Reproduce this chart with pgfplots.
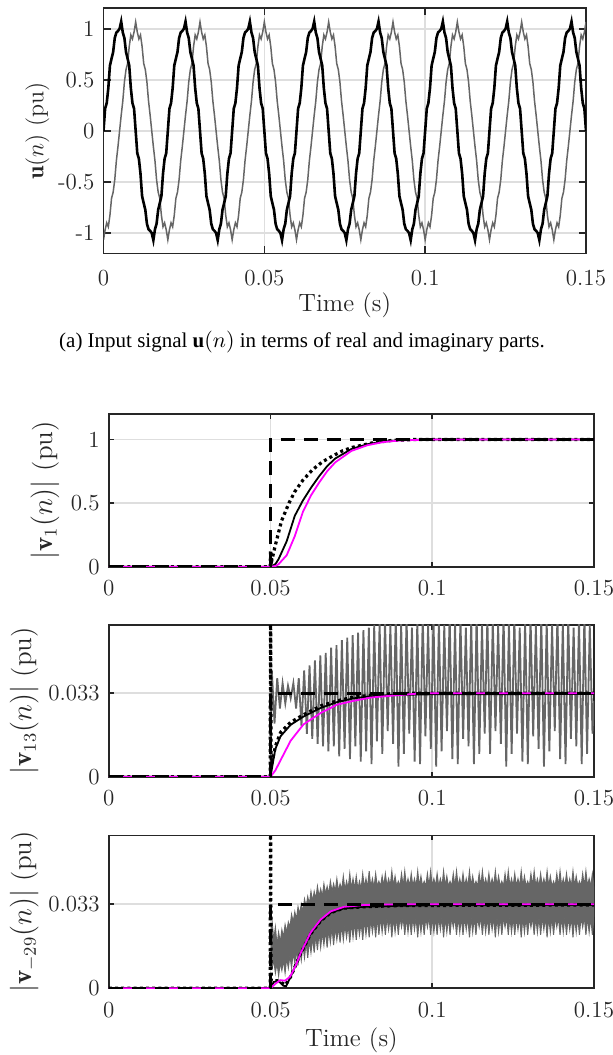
\documentclass[border=0pt]{standalone}
\usepackage{fontspec}
\usepackage{pgfplots}
\usepackage{pgfplotstable}
\pgfplotsset{compat=1.18}
\newfontfamily\capfont{Liberation Serif}
\definecolor{dg}{gray}{0.4}
\definecolor{gridc}{gray}{0.87}
\definecolor{framec}{gray}{0.15}
\definecolor{mag}{RGB}{255,0,255}

\pgfplotsset{
 matbase/.style={
  scale only axis, anchor=south west,
  xmin=0, xmax=0.15,
  xtick={0,0.05,0.1,0.15},
  xticklabels={0,0.05,0.1,0.15},
  scaled x ticks=false, scaled y ticks=false,
  tick align=inside, xtick pos=both, ytick pos=both,
  tick style={framec, line width=0.8pt},
  axis line style={framec, line width=0.9pt},
  grid=major,
  major grid style={gridc, line width=0.8pt},
  tick label style={font=\fontsize{11.5}{12}\selectfont, text=framec},
  yticklabel style={xshift=-1pt},
  clip=true,
 }
}

\pgfplotstableread{
t b g
0.0000 0.000 -1.066
0.0005 0.218 -0.968
0.0010 0.272 -0.900
0.0015 0.419 -0.939
0.0020 0.639 -0.826
0.0025 0.707 -0.660
0.0030 0.772 -0.600
0.0035 0.909 -0.478
0.0040 0.963 -0.292
0.0045 0.978 -0.153
0.0050 1.000 0.000
0.0055 1.070 0.153
0.0060 0.963 0.292
0.0065 0.909 0.478
0.0070 0.772 0.600
0.0075 0.707 0.660
0.0080 0.639 0.826
0.0085 0.419 0.939
0.0090 0.272 0.900
0.0095 0.218 0.968
0.0100 0.000 1.066
0.0105 -0.218 0.968
0.0110 -0.272 0.900
0.0115 -0.419 0.939
0.0120 -0.639 0.826
0.0125 -0.707 0.660
0.0130 -0.772 0.600
0.0135 -0.909 0.478
0.0140 -0.963 0.292
0.0145 -0.978 0.153
0.0150 -1.000 0.000
0.0155 -1.070 -0.153
0.0160 -0.963 -0.292
0.0165 -0.909 -0.478
0.0170 -0.772 -0.600
0.0175 -0.707 -0.660
0.0180 -0.639 -0.826
0.0185 -0.419 -0.939
0.0190 -0.272 -0.900
0.0195 -0.218 -0.968
0.0200 0.000 -1.066
0.0205 0.218 -0.968
0.0210 0.272 -0.900
0.0215 0.419 -0.939
0.0220 0.639 -0.826
0.0225 0.707 -0.660
0.0230 0.772 -0.600
0.0235 0.909 -0.478
0.0240 0.963 -0.292
0.0245 0.978 -0.153
0.0250 1.000 0.000
0.0255 1.070 0.153
0.0260 0.963 0.292
0.0265 0.909 0.478
0.0270 0.772 0.600
0.0275 0.707 0.660
0.0280 0.639 0.826
0.0285 0.419 0.939
0.0290 0.272 0.900
0.0295 0.218 0.968
0.0300 0.000 1.066
0.0305 -0.218 0.968
0.0310 -0.272 0.900
0.0315 -0.419 0.939
0.0320 -0.639 0.826
0.0325 -0.707 0.660
0.0330 -0.772 0.600
0.0335 -0.909 0.478
0.0340 -0.963 0.292
0.0345 -0.978 0.153
0.0350 -1.000 0.000
0.0355 -1.070 -0.153
0.0360 -0.963 -0.292
0.0365 -0.909 -0.478
0.0370 -0.772 -0.600
0.0375 -0.707 -0.660
0.0380 -0.639 -0.826
0.0385 -0.419 -0.939
0.0390 -0.272 -0.900
0.0395 -0.218 -0.968
0.0400 0.000 -1.066
0.0405 0.218 -0.968
0.0410 0.272 -0.900
0.0415 0.419 -0.939
0.0420 0.639 -0.826
0.0425 0.707 -0.660
0.0430 0.772 -0.600
0.0435 0.909 -0.478
0.0440 0.963 -0.292
0.0445 0.978 -0.153
0.0450 1.000 0.000
0.0455 1.070 0.153
0.0460 0.963 0.292
0.0465 0.909 0.478
0.0470 0.772 0.600
0.0475 0.707 0.660
0.0480 0.639 0.826
0.0485 0.419 0.939
0.0490 0.272 0.900
0.0495 0.218 0.968
0.0500 0.000 1.066
0.0505 -0.218 0.968
0.0510 -0.272 0.900
0.0515 -0.419 0.939
0.0520 -0.639 0.826
0.0525 -0.707 0.660
0.0530 -0.772 0.600
0.0535 -0.909 0.478
0.0540 -0.963 0.292
0.0545 -0.978 0.153
0.0550 -1.000 0.000
0.0555 -1.070 -0.153
0.0560 -0.963 -0.292
0.0565 -0.909 -0.478
0.0570 -0.772 -0.600
0.0575 -0.707 -0.660
0.0580 -0.639 -0.826
0.0585 -0.419 -0.939
0.0590 -0.272 -0.900
0.0595 -0.218 -0.968
0.0600 0.000 -1.066
0.0605 0.218 -0.968
0.0610 0.272 -0.900
0.0615 0.419 -0.939
0.0620 0.639 -0.826
0.0625 0.707 -0.660
0.0630 0.772 -0.600
0.0635 0.909 -0.478
0.0640 0.963 -0.292
0.0645 0.978 -0.153
0.0650 1.000 0.000
0.0655 1.070 0.153
0.0660 0.963 0.292
0.0665 0.909 0.478
0.0670 0.772 0.600
0.0675 0.707 0.660
0.0680 0.639 0.826
0.0685 0.419 0.939
0.0690 0.272 0.900
0.0695 0.218 0.968
0.0700 0.000 1.066
0.0705 -0.218 0.968
0.0710 -0.272 0.900
0.0715 -0.419 0.939
0.0720 -0.639 0.826
0.0725 -0.707 0.660
0.0730 -0.772 0.600
0.0735 -0.909 0.478
0.0740 -0.963 0.292
0.0745 -0.978 0.153
0.0750 -1.000 0.000
0.0755 -1.070 -0.153
0.0760 -0.963 -0.292
0.0765 -0.909 -0.478
0.0770 -0.772 -0.600
0.0775 -0.707 -0.660
0.0780 -0.639 -0.826
0.0785 -0.419 -0.939
0.0790 -0.272 -0.900
0.0795 -0.218 -0.968
0.0800 0.000 -1.066
0.0805 0.218 -0.968
0.0810 0.272 -0.900
0.0815 0.419 -0.939
0.0820 0.639 -0.826
0.0825 0.707 -0.660
0.0830 0.772 -0.600
0.0835 0.909 -0.478
0.0840 0.963 -0.292
0.0845 0.978 -0.153
0.0850 1.000 0.000
0.0855 1.070 0.153
0.0860 0.963 0.292
0.0865 0.909 0.478
0.0870 0.772 0.600
0.0875 0.707 0.660
0.0880 0.639 0.826
0.0885 0.419 0.939
0.0890 0.272 0.900
0.0895 0.218 0.968
0.0900 0.000 1.066
0.0905 -0.218 0.968
0.0910 -0.272 0.900
0.0915 -0.419 0.939
0.0920 -0.639 0.826
0.0925 -0.707 0.660
0.0930 -0.772 0.600
0.0935 -0.909 0.478
0.0940 -0.963 0.292
0.0945 -0.978 0.153
0.0950 -1.000 0.000
0.0955 -1.070 -0.153
0.0960 -0.963 -0.292
0.0965 -0.909 -0.478
0.0970 -0.772 -0.600
0.0975 -0.707 -0.660
0.0980 -0.639 -0.826
0.0985 -0.419 -0.939
0.0990 -0.272 -0.900
0.0995 -0.218 -0.968
0.1000 0.000 -1.066
0.1005 0.218 -0.968
0.1010 0.272 -0.900
0.1015 0.419 -0.939
0.1020 0.639 -0.826
0.1025 0.707 -0.660
0.1030 0.772 -0.600
0.1035 0.909 -0.478
0.1040 0.963 -0.292
0.1045 0.978 -0.153
0.1050 1.000 0.000
0.1055 1.070 0.153
0.1060 0.963 0.292
0.1065 0.909 0.478
0.1070 0.772 0.600
0.1075 0.707 0.660
0.1080 0.639 0.826
0.1085 0.419 0.939
0.1090 0.272 0.900
0.1095 0.218 0.968
0.1100 0.000 1.066
0.1105 -0.218 0.968
0.1110 -0.272 0.900
0.1115 -0.419 0.939
0.1120 -0.639 0.826
0.1125 -0.707 0.660
0.1130 -0.772 0.600
0.1135 -0.909 0.478
0.1140 -0.963 0.292
0.1145 -0.978 0.153
0.1150 -1.000 0.000
0.1155 -1.070 -0.153
0.1160 -0.963 -0.292
0.1165 -0.909 -0.478
0.1170 -0.772 -0.600
0.1175 -0.707 -0.660
0.1180 -0.639 -0.826
0.1185 -0.419 -0.939
0.1190 -0.272 -0.900
0.1195 -0.218 -0.968
0.1200 0.000 -1.066
0.1205 0.218 -0.968
0.1210 0.272 -0.900
0.1215 0.419 -0.939
0.1220 0.639 -0.826
0.1225 0.707 -0.660
0.1230 0.772 -0.600
0.1235 0.909 -0.478
0.1240 0.963 -0.292
0.1245 0.978 -0.153
0.1250 1.000 0.000
0.1255 1.070 0.153
0.1260 0.963 0.292
0.1265 0.909 0.478
0.1270 0.772 0.600
0.1275 0.707 0.660
0.1280 0.639 0.826
0.1285 0.419 0.939
0.1290 0.272 0.900
0.1295 0.218 0.968
0.1300 0.000 1.066
0.1305 -0.218 0.968
0.1310 -0.272 0.900
0.1315 -0.419 0.939
0.1320 -0.639 0.826
0.1325 -0.707 0.660
0.1330 -0.772 0.600
0.1335 -0.909 0.478
0.1340 -0.963 0.292
0.1345 -0.978 0.153
0.1350 -1.000 0.000
0.1355 -1.070 -0.153
0.1360 -0.963 -0.292
0.1365 -0.909 -0.478
0.1370 -0.772 -0.600
0.1375 -0.707 -0.660
0.1380 -0.639 -0.826
0.1385 -0.419 -0.939
0.1390 -0.272 -0.900
0.1395 -0.218 -0.968
0.1400 0.000 -1.066
0.1405 0.218 -0.968
0.1410 0.272 -0.900
0.1415 0.419 -0.939
0.1420 0.639 -0.826
0.1425 0.707 -0.660
0.1430 0.772 -0.600
0.1435 0.909 -0.478
0.1440 0.963 -0.292
0.1445 0.978 -0.153
0.1450 1.000 0.000
0.1455 1.070 0.153
0.1460 0.963 0.292
0.1465 0.909 0.478
0.1470 0.772 0.600
0.1475 0.707 0.660
0.1480 0.639 0.826
0.1485 0.419 0.939
0.1490 0.272 0.900
0.1495 0.218 0.968
0.1500 0.000 1.066
}\tabA

\pgfplotstableread{
t v
0 0
0.05 0
0.05040 0.042
0.05123 0.021
0.05207 0.039
0.05290 0.027
0.05373 0.037
0.05457 0.029
0.05540 0.036
0.05623 0.031
0.05706 0.037
0.05790 0.027
0.05873 0.039
0.05956 0.020
0.06040 0.042
0.06123 0.017
0.06206 0.044
0.06290 0.015
0.06373 0.046
0.06456 0.013
0.06539 0.048
0.06623 0.012
0.06706 0.049
0.06789 0.010
0.06873 0.051
0.06956 0.012
0.07039 0.052
0.07123 0.008
0.07206 0.054
0.07289 0.011
0.07372 0.055
0.07456 0.007
0.07539 0.056
0.07622 0.012
0.07706 0.057
0.07789 0.006
0.07872 0.058
0.07956 0.010
0.08039 0.059
0.08122 0.005
0.08205 0.060
0.08289 0.014
0.08372 0.061
0.08455 0.009
0.08539 0.062
0.08622 0.018
0.08705 0.060
0.08789 0.013
0.08872 0.064
0.08955 0.004
0.09038 0.061
0.09122 0.009
0.09205 0.063
0.09288 0.017
0.09372 0.059
0.09455 0.006
0.09538 0.062
0.09622 0.005
0.09705 0.064
0.09788 0.016
0.09871 0.060
0.09955 0.011
0.10038 0.063
0.10121 0.004
0.10205 0.062
0.10288 0.010
0.10371 0.060
0.10455 0.018
0.10538 0.064
0.10621 0.007
0.10704 0.061
0.10788 0.005
0.10871 0.063
0.10954 0.015
0.11038 0.059
0.11121 0.012
0.11204 0.062
0.11288 0.005
0.11371 0.064
0.11454 0.009
0.11537 0.060
0.11621 0.017
0.11704 0.063
0.11787 0.009
0.11871 0.062
0.11954 0.018
0.12037 0.060
0.12121 0.013
0.12204 0.064
0.12287 0.004
0.12370 0.061
0.12454 0.009
0.12537 0.063
0.12620 0.017
0.12704 0.059
0.12787 0.006
0.12870 0.062
0.12954 0.005
0.13037 0.064
0.13120 0.016
0.13203 0.060
0.13287 0.011
0.13370 0.063
0.13453 0.004
0.13537 0.062
0.13620 0.010
0.13703 0.060
0.13787 0.018
0.13870 0.064
0.13953 0.007
0.14036 0.061
0.14120 0.005
0.14203 0.063
0.14286 0.015
0.14370 0.059
0.14453 0.012
0.14536 0.062
0.14620 0.005
0.14703 0.064
0.14786 0.009
0.14869 0.060
0.14953 0.017
0.15000 0.030
}\tabC

% band of |v_-29|: upper edge left to right, then lower edge right to left
\pgfplotstableread{
t v
0.0500 0.022
0.0505 0.026
0.0510 0.019
0.0515 0.024
0.0520 0.017
0.0525 0.022
0.0530 0.018
0.0535 0.023
0.0540 0.020
0.0545 0.025
0.0550 0.022
0.0555 0.026
0.0560 0.024
0.0565 0.029
0.0570 0.026
0.0575 0.030
0.0580 0.027
0.0585 0.032
0.0590 0.029
0.0595 0.033
0.0600 0.030
0.0605 0.035
0.0610 0.032
0.0615 0.036
0.0620 0.033
0.0625 0.038
0.0630 0.034
0.0635 0.038
0.0640 0.035
0.0645 0.040
0.0650 0.036
0.0655 0.039
0.0660 0.036
0.0665 0.041
0.0670 0.037
0.0675 0.040
0.0680 0.037
0.0685 0.042
0.0690 0.038
0.0695 0.041
0.0700 0.038
0.0705 0.043
0.0710 0.038
0.0715 0.041
0.0720 0.0385
0.0725 0.044
0.0730 0.0385
0.0735 0.042
0.0740 0.039
0.0745 0.045
0.0750 0.039
0.0755 0.043
0.0760 0.039
0.0765 0.044
0.0770 0.039
0.0775 0.042
0.0780 0.039
0.0785 0.045
0.0790 0.0395
0.0795 0.043
0.0800 0.0395
0.0805 0.046
0.0810 0.0395
0.0815 0.043
0.0820 0.0395
0.0825 0.045
0.0830 0.040
0.0835 0.042
0.0840 0.040
0.0845 0.044
0.0850 0.040
0.0855 0.045
0.0860 0.040
0.0865 0.043
0.0870 0.040
0.0875 0.046
0.0880 0.040
0.0885 0.044
0.0890 0.040
0.0895 0.042
0.0900 0.040
0.0905 0.045
0.0910 0.040
0.0915 0.046
0.0920 0.040
0.0925 0.043
0.0930 0.040
0.0935 0.045
0.0940 0.040
0.0945 0.043
0.0950 0.040
0.0955 0.046
0.0960 0.040
0.0965 0.044
0.0970 0.040
0.0975 0.042
0.0980 0.040
0.0985 0.045
0.0990 0.040
0.0995 0.046
0.1000 0.040
0.1005 0.043
0.1010 0.040
0.1015 0.045
0.1020 0.040
0.1025 0.043
0.1030 0.040
0.1035 0.046
0.1040 0.040
0.1045 0.044
0.1050 0.040
0.1055 0.042
0.1060 0.040
0.1065 0.045
0.1070 0.040
0.1075 0.046
0.1080 0.040
0.1085 0.043
0.1090 0.040
0.1095 0.045
0.1100 0.040
0.1105 0.043
0.1110 0.040
0.1115 0.046
0.1120 0.040
0.1125 0.044
0.1130 0.040
0.1135 0.042
0.1140 0.040
0.1145 0.045
0.1150 0.040
0.1155 0.046
0.1160 0.040
0.1165 0.043
0.1170 0.040
0.1175 0.045
0.1180 0.040
0.1185 0.043
0.1190 0.040
0.1195 0.046
0.1200 0.040
0.1205 0.044
0.1210 0.040
0.1215 0.042
0.1220 0.040
0.1225 0.045
0.1230 0.040
0.1235 0.046
0.1240 0.040
0.1245 0.043
0.1250 0.040
0.1255 0.045
0.1260 0.040
0.1265 0.043
0.1270 0.040
0.1275 0.046
0.1280 0.040
0.1285 0.044
0.1290 0.040
0.1295 0.042
0.1300 0.040
0.1305 0.045
0.1310 0.040
0.1315 0.046
0.1320 0.040
0.1325 0.043
0.1330 0.040
0.1335 0.045
0.1340 0.040
0.1345 0.043
0.1350 0.040
0.1355 0.046
0.1360 0.040
0.1365 0.044
0.1370 0.040
0.1375 0.042
0.1380 0.040
0.1385 0.045
0.1390 0.040
0.1395 0.046
0.1400 0.040
0.1405 0.043
0.1410 0.040
0.1415 0.045
0.1420 0.040
0.1425 0.043
0.1430 0.040
0.1435 0.046
0.1440 0.040
0.1445 0.044
0.1450 0.040
0.1455 0.042
0.1460 0.040
0.1465 0.045
0.1470 0.040
0.1475 0.046
0.1480 0.040
0.1485 0.043
0.1490 0.040
0.1495 0.045
0.1500 0.040
0.1500 0.028
0.1495 0.021
0.1490 0.028
0.1485 0.022
0.1480 0.028
0.1475 0.021
0.1470 0.028
0.1465 0.024
0.1460 0.028
0.1455 0.021
0.1450 0.028
0.1445 0.022
0.1440 0.028
0.1435 0.020
0.1430 0.028
0.1425 0.023
0.1420 0.028
0.1415 0.021
0.1410 0.028
0.1405 0.022
0.1400 0.028
0.1395 0.021
0.1390 0.028
0.1385 0.024
0.1380 0.028
0.1375 0.021
0.1370 0.028
0.1365 0.022
0.1360 0.028
0.1355 0.020
0.1350 0.028
0.1345 0.023
0.1340 0.028
0.1335 0.021
0.1330 0.028
0.1325 0.022
0.1320 0.028
0.1315 0.021
0.1310 0.028
0.1305 0.024
0.1300 0.028
0.1295 0.021
0.1290 0.028
0.1285 0.022
0.1280 0.028
0.1275 0.020
0.1270 0.028
0.1265 0.023
0.1260 0.028
0.1255 0.021
0.1250 0.028
0.1245 0.022
0.1240 0.028
0.1235 0.021
0.1230 0.028
0.1225 0.024
0.1220 0.028
0.1215 0.021
0.1210 0.028
0.1205 0.022
0.1200 0.028
0.1195 0.020
0.1190 0.028
0.1185 0.023
0.1180 0.028
0.1175 0.021
0.1170 0.028
0.1165 0.022
0.1160 0.028
0.1155 0.021
0.1150 0.028
0.1145 0.024
0.1140 0.028
0.1135 0.021
0.1130 0.028
0.1125 0.022
0.1120 0.028
0.1115 0.020
0.1110 0.028
0.1105 0.023
0.1100 0.028
0.1095 0.021
0.1090 0.028
0.1085 0.022
0.1080 0.028
0.1075 0.021
0.1070 0.028
0.1065 0.024
0.1060 0.028
0.1055 0.021
0.1050 0.028
0.1045 0.022
0.1040 0.028
0.1035 0.020
0.1030 0.028
0.1025 0.023
0.1020 0.028
0.1015 0.021
0.1010 0.028
0.1005 0.022
0.1000 0.028
0.0995 0.021
0.0990 0.028
0.0985 0.024
0.0980 0.028
0.0975 0.021
0.0970 0.028
0.0965 0.022
0.0960 0.028
0.0955 0.020
0.0950 0.028
0.0945 0.023
0.0940 0.028
0.0935 0.021
0.0930 0.028
0.0925 0.022
0.0920 0.028
0.0915 0.021
0.0910 0.028
0.0905 0.024
0.0900 0.028
0.0895 0.021
0.0890 0.028
0.0885 0.022
0.0880 0.028
0.0875 0.020
0.0870 0.028
0.0865 0.023
0.0860 0.028
0.0855 0.021
0.0850 0.028
0.0845 0.022
0.0840 0.028
0.0835 0.021
0.0830 0.028
0.0825 0.020
0.0820 0.027
0.0815 0.022
0.0810 0.027
0.0805 0.020
0.0800 0.027
0.0795 0.021
0.0790 0.027
0.0785 0.019
0.0780 0.026
0.0775 0.021
0.0770 0.026
0.0765 0.019
0.0760 0.026
0.0755 0.020
0.0750 0.026
0.0745 0.018
0.0740 0.025
0.0735 0.020
0.0730 0.025
0.0725 0.019
0.0720 0.025
0.0715 0.018
0.0710 0.024
0.0705 0.019
0.0700 0.024
0.0695 0.017
0.0690 0.024
0.0685 0.018
0.0680 0.023
0.0675 0.016
0.0670 0.023
0.0665 0.017
0.0660 0.022
0.0655 0.016
0.0650 0.022
0.0645 0.015
0.0640 0.021
0.0635 0.014
0.0630 0.020
0.0625 0.014
0.0620 0.019
0.0615 0.012
0.0610 0.018
0.0605 0.012
0.0600 0.017
0.0595 0.011
0.0590 0.016
0.0585 0.009
0.0580 0.015
0.0575 0.010
0.0570 0.014
0.0565 0.008
0.0560 0.013
0.0555 0.008
0.0550 0.012
0.0545 0.006
0.0540 0.011
0.0535 0.007
0.0530 0.010
0.0525 0.005
0.0520 0.010
0.0515 0.006
0.0510 0.011
0.0505 0.008
0.0500 0.013
}\tabD

\begin{document}
\begin{tikzpicture}
\useasboundingbox (0,0) rectangle (306.5pt,527.5pt);

% ---------- (a) input signal ----------
\begin{axis}[matbase, at={(51.75pt,400.75pt)},
  width=241.25pt, height=122.6pt,
  ymin=-1.2, ymax=1.2,
  ytick={-1,-0.5,0,0.5,1}, yticklabels={-1,-0.5,0,0.5,1},
  major tick length=3.5pt,
  xticklabel style={yshift=-5pt},
  xlabel={Time (s)}, ylabel={$\mathbf{u}(n)$ (pu)},
  xlabel style={font=\fontsize{12.5}{14}\selectfont, text=framec, at={(axis description cs:0.5,0)}, anchor=center, yshift=-25.8pt},
  ylabel style={font=\fontsize{12}{14}\selectfont, text=framec, at={(axis description cs:0,0.5)}, anchor=center, yshift=33pt},
]
\addplot[dg, line width=0.75pt] table[x=t,y=g] {\tabA};
\addplot[black, line width=1.3pt] table[x=t,y=b] {\tabA};
\end{axis}

\node[font=\capfont\fontsize{10.5}{12}\selectfont] at (151pt,356.5pt)
  {(a) Input signal \textbf{u}$(n)$ in terms of real and imaginary parts.};

% ---------- |v1| ----------
\begin{axis}[matbase, at={(54.4pt,244.15pt)},
  width=242.6pt, height=76.35pt,
  ymin=0, ymax=1.2,
  ytick={0,0.5,1}, yticklabels={0,0.5,1},
  major tick length=2.5pt,
  xticklabel style={yshift=-3.3pt},
  ylabel={$|\mathbf{v}_1(n)|$ (pu)},
  ylabel style={font=\fontsize{13.5}{15}\selectfont, text=framec, at={(axis description cs:0,0.5)}, anchor=center, yshift=31.9pt},
]
\addplot[black, line width=1.6pt, dash pattern=on 1.5pt off 1.6pt] coordinates {
(0,0) (0.0499,0) (0.05,0.13) (0.0504,0.05) (0.0515,0.17) (0.0534,0.36) (0.0557,0.50) (0.0575,0.59) (0.06,0.68) (0.0631,0.765) (0.0661,0.825) (0.0692,0.87) (0.0722,0.91) (0.0752,0.937) (0.0813,0.972) (0.0874,0.992) (0.095,1.0) (0.15,1.0)};
\addplot[black, line width=0.9pt] coordinates {
(0,0) (0.05,0) (0.0515,0.02) (0.0525,0.06) (0.055,0.20) (0.0575,0.40) (0.06,0.52) (0.0625,0.62) (0.065,0.71) (0.0675,0.79) (0.07,0.85) (0.075,0.925) (0.08,0.963) (0.085,0.984) (0.09,0.994) (0.1,1.0) (0.15,1.0)};
\addplot[mag, line width=0.9pt] coordinates {
(0,0) (0.05,0) (0.0515,0.005) (0.0525,0.02) (0.055,0.09) (0.0575,0.24) (0.06,0.43) (0.0625,0.56) (0.065,0.66) (0.0675,0.75) (0.07,0.82) (0.075,0.91) (0.08,0.955) (0.085,0.98) (0.09,0.992) (0.1,1.0) (0.15,1.0)};
\addplot[black, line width=1.3pt, dash pattern=on 7pt off 4.5pt] coordinates {
(0,0) (0.05,0) (0.05,1) (0.15,1)};
\end{axis}

% ---------- |v13| ----------
\begin{axis}[matbase, at={(54.4pt,139.15pt)},
  width=242.6pt, height=75.85pt,
  ymin=0, ymax=0.06,
  ytick={0,0.033}, yticklabels={0,0.033},
  major tick length=2.5pt,
  xticklabel style={yshift=-3.3pt},
  ylabel={$|\mathbf{v}_{13}(n)|$ (pu)},
  ylabel style={font=\fontsize{13.5}{15}\selectfont, text=framec, at={(axis description cs:0,0.5)}, anchor=center, yshift=42.25pt},
]
\addplot[dg, line width=0.9pt] table[x=t,y=v] {\tabC};
\addplot[black, line width=1.6pt, dash pattern=on 1.5pt off 1.6pt] coordinates {
(0,0) (0.0499,0) (0.05,0.07) (0.0502,0.004) (0.0515,0.012) (0.0531,0.0175) (0.0562,0.0215) (0.0602,0.0245) (0.0655,0.028) (0.0706,0.030) (0.0757,0.0315) (0.0809,0.0322) (0.0871,0.0328) (0.095,0.033) (0.15,0.033)};
\addplot[black, line width=0.9pt] coordinates {
(0,0) (0.05,0) (0.0508,0.006) (0.0515,0.011) (0.0531,0.016) (0.0562,0.0205) (0.0602,0.0238) (0.0655,0.0272) (0.0706,0.0295) (0.0757,0.031) (0.0809,0.0318) (0.0871,0.0323) (0.1,0.0326) (0.15,0.0327)};
\addplot[mag, line width=0.9pt] coordinates {
(0,0) (0.05,0) (0.0515,0.0025) (0.0531,0.0065) (0.0562,0.0142) (0.0602,0.0207) (0.0655,0.0252) (0.0706,0.0285) (0.0757,0.030) (0.0809,0.0313) (0.0871,0.032) (0.095,0.0328) (0.1,0.033) (0.15,0.033)};
\addplot[black, line width=1.3pt, dash pattern=on 7pt off 4.5pt] coordinates {
(0,0) (0.05,0) (0.05,0.033) (0.15,0.033)};
\end{axis}

% ---------- |v-29| ----------
\begin{axis}[matbase, at={(54.4pt,33.35pt)},
  width=242.6pt, height=76.4pt,
  ymin=0, ymax=0.06,
  ytick={0,0.033}, yticklabels={0,0.033},
  major tick length=2.5pt,
  xticklabel style={yshift=-3.3pt},
  xlabel={Time (s)}, ylabel={$|\mathbf{v}_{-29}(n)|$ (pu)},
  xlabel style={font=\fontsize{12.5}{14}\selectfont, text=framec, at={(axis description cs:0.5,0)}, anchor=center, yshift=-25.85pt},
  ylabel style={font=\fontsize{13.5}{15}\selectfont, text=framec, at={(axis description cs:0,0.5)}, anchor=center, yshift=42.25pt},
]
\addplot[dg, fill=dg, line width=0.5pt] table[x=t,y=v] {\tabD};
\addplot[black, line width=1.6pt, dash pattern=on 1.5pt off 1.6pt] coordinates {
(0,0) (0.0499,0) (0.05,0.07) (0.0502,0.003) (0.052,0.003) (0.053,0.0025) (0.0546,0.0013) (0.0562,0.0045) (0.0593,0.0136) (0.0624,0.0214) (0.0655,0.0265) (0.0686,0.0297) (0.0727,0.0315) (0.0788,0.032) (0.09,0.0325) (0.15,0.0327)};
\addplot[black, line width=0.9pt] coordinates {
(0,0) (0.05,0) (0.051,0.0025) (0.0525,0.0028) (0.054,0.001) (0.0548,0.0008) (0.0562,0.0045) (0.0593,0.0136) (0.0624,0.0214) (0.0655,0.0265) (0.0686,0.0297) (0.0727,0.0314) (0.0788,0.032) (0.09,0.0324) (0.1,0.0326) (0.15,0.0327)};
\addplot[mag, line width=0.9pt] coordinates {
(0,0) (0.05,0) (0.0515,0.0018) (0.053,0.0032) (0.0545,0.003) (0.056,0.0045) (0.0578,0.009) (0.0593,0.0138) (0.0624,0.0219) (0.0655,0.027) (0.0686,0.0302) (0.0727,0.032) (0.0788,0.0327) (0.09,0.033) (0.15,0.033)};
\addplot[black, line width=1.3pt, dash pattern=on 7pt off 4.5pt] coordinates {
(0,0) (0.05,0) (0.05,0.033) (0.15,0.033)};
\end{axis}
\end{tikzpicture}
\end{document}
